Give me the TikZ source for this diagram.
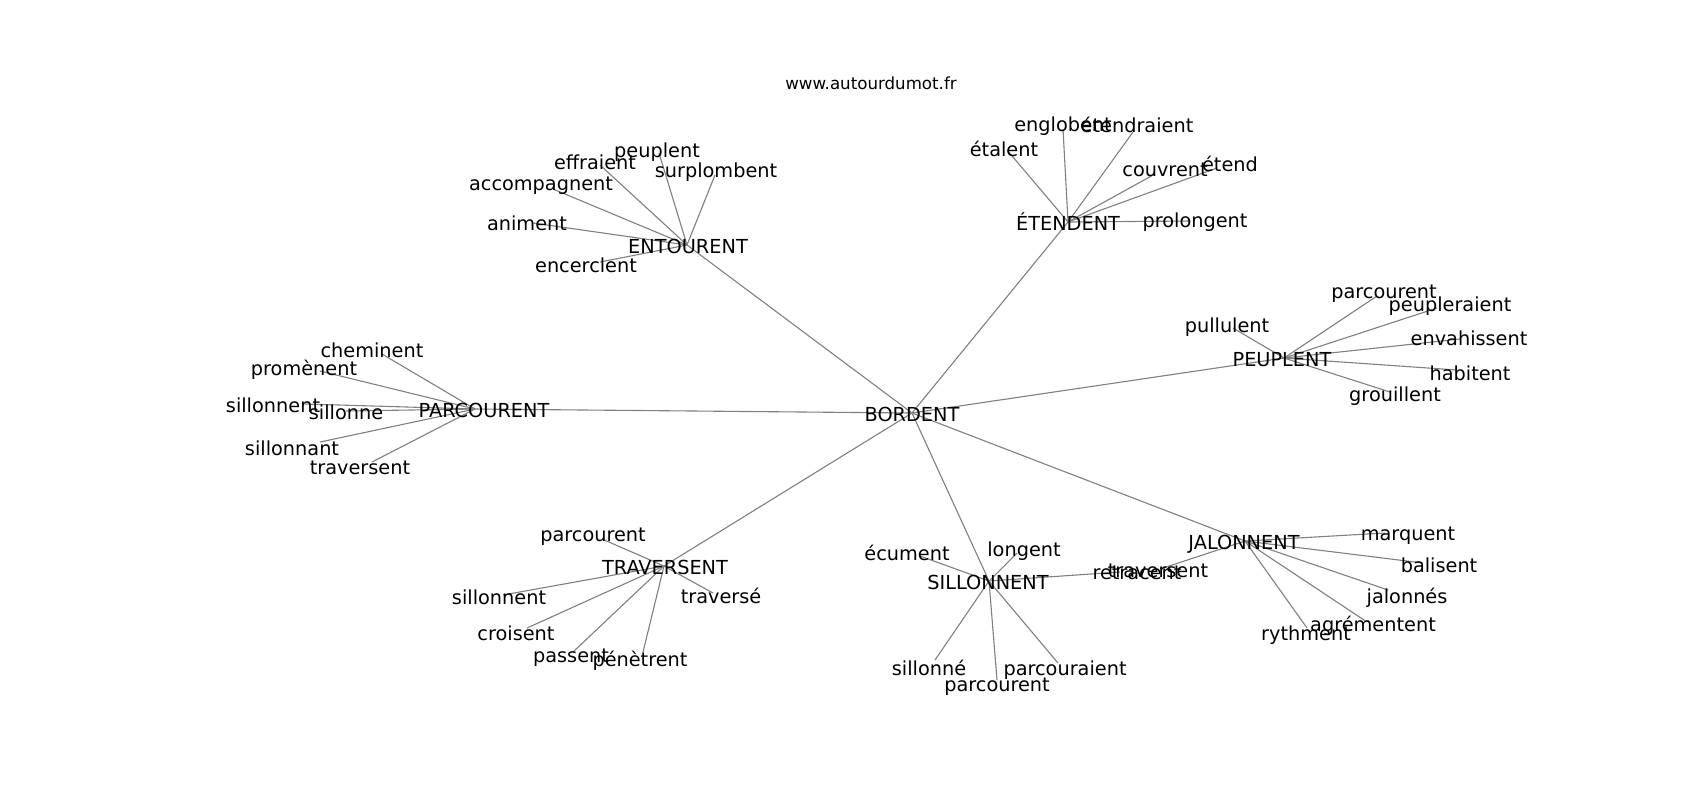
\documentclass[tikz,border=0pt]{standalone}
\usepackage{fontspec}
\setmainfont{DejaVu Sans}
\tikzset{
  lbl/.style={font=\fontsize{9.65}{11}\selectfont, anchor=base, yshift=-4pt, inner sep=0pt, text=black},
  ttl/.style={font=\fontsize{8.33}{10}\selectfont, anchor=base, yshift=-3pt, inner sep=0pt, text=black},
  edge/.style={draw=black!50, line width=0.55pt}
}
\begin{document}
\begin{tikzpicture}[x=0.5pt,y=-0.5pt]
\useasboundingbox[fill=white] (0,0) rectangle (1700,800);
% hubs
\coordinate (B) at (912,413);
\coordinate (E) at (687,245);
\coordinate (T) at (1068,222);
\coordinate (P) at (1284,358);
\coordinate (C) at (475,409);
\coordinate (V) at (664,566);
\coordinate (S) at (989,581);
\coordinate (J) at (1245,541);
% leaf line ends
\coordinate (e1) at (600,165);
\coordinate (e2) at (553,189);
\coordinate (e3) at (659,153);
\coordinate (e4) at (715,175);
\coordinate (e5) at (533,223);
\coordinate (e6) at (600,262);
\coordinate (t1) at (1007,150);
\coordinate (t2) at (1063,129);
\coordinate (t3) at (1133,132);
\coordinate (t4) at (1155,174);
\coordinate (t5) at (1217,168);
\coordinate (t6) at (1190,221);
\coordinate (p1) at (1233,328);
\coordinate (p2) at (1377,296);
\coordinate (p3) at (1437,308);
\coordinate (p4) at (1460,339);
\coordinate (p5) at (1457,370);
\coordinate (p6) at (1390,392);
\coordinate (c1) at (382,354);
\coordinate (c2) at (320,371);
\coordinate (c3) at (305,404);
\coordinate (c4) at (346,411);
\coordinate (c5) at (320,442);
\coordinate (c6) at (372,462);
\coordinate (v1) at (602,539);
\coordinate (v2) at (503,595);
\coordinate (v3) at (713,593);
\coordinate (v4) at (527,628);
\coordinate (v5) at (573,652);
\coordinate (v6) at (643,652);
\coordinate (s1) at (920,556);
\coordinate (s2) at (1017,553);
\coordinate (s3) at (1120,572);
\coordinate (s4) at (935,660);
\coordinate (s5) at (997,680);
\coordinate (s6) at (1058,663);
\coordinate (j0) at (1160,569);
\coordinate (j1) at (1385,533);
\coordinate (j2) at (1423,563);
\coordinate (j3) at (1388,590);
\coordinate (j4) at (1367,622);
\coordinate (j5) at (1307,628);
% edges
\foreach \h in {E,T,P,C,V,S,J} \draw[edge] (B) -- (\h);
\foreach \l in {e1,e2,e3,e4,e5,e6} \draw[edge] (E) -- (\l);
\foreach \l in {t1,t2,t3,t4,t5,t6} \draw[edge] (T) -- (\l);
\foreach \l in {p1,p2,p3,p4,p5,p6} \draw[edge] (P) -- (\l);
\foreach \l in {c1,c2,c3,c4,c5,c6} \draw[edge] (C) -- (\l);
\foreach \l in {v1,v2,v3,v4,v5,v6} \draw[edge] (V) -- (\l);
\foreach \l in {s1,s2,s3,s4,s5,s6} \draw[edge] (S) -- (\l);
\foreach \l in {j0,j1,j2,j3,j4,j5} \draw[edge] (J) -- (\l);
% title
\node[ttl] (title) at (871,83) {www.autourdumot.fr};
% hub labels
\node[lbl] (Bl) at (912,413) {BORDENT};
\node[lbl] (El) at (688,245) {ENTOURENT};
\node[lbl] (Tl) at (1068,222) {ÉTENDENT};
\node[lbl] (Pl) at (1282,358) {PEUPLENT};
\node[lbl] (Cl) at (484,409) {PARCOURENT};
\node[lbl] (Vl) at (665,566) {TRAVERSENT};
\node[lbl] (Sl) at (988,581) {SILLONNENT};
\node[lbl] (Jl) at (1244,541) {JALONNENT};
% leaf labels
\node[lbl] (e1l) at (595,161) {effraient};
\node[lbl] (e2l) at (541,182) {accompagnent};
\node[lbl] (e3l) at (657,149) {peuplent};
\node[lbl] (e4l) at (716,169) {surplombent};
\node[lbl] (e5l) at (527,222) {animent};
\node[lbl] (e6l) at (586,264) {encerclent};
\node[lbl] (t1l) at (1004,148) {étalent};
\node[lbl] (t2l) at (1063,123) {englobent};
\node[lbl] (t3l) at (1137,124) {étendraient};
\node[lbl] (t4l) at (1165,168) {couvrent};
\node[lbl] (t5l) at (1230,163) {étend};
\node[lbl] (t6l) at (1195,219) {prolongent};
\node[lbl] (p1l) at (1227,324) {pullulent};
\node[lbl] (p2l) at (1384,290) {parcourent};
\node[lbl] (p3l) at (1450,303) {peupleraient};
\node[lbl] (p4l) at (1469,337) {envahissent};
\node[lbl] (p5l) at (1470,372) {habitent};
\node[lbl] (p6l) at (1395,393) {grouillent};
\node[lbl] (c1l) at (372,349) {cheminent};
\node[lbl] (c2l) at (304,367) {promènent};
\node[lbl] (c3l) at (273,404) {sillonnent};
\node[lbl] (c4l) at (346,411) {sillonne};
\node[lbl] (c5l) at (292,447) {sillonnant};
\node[lbl] (c6l) at (360,466) {traversent};
\node[lbl] (v1l) at (593,533) {parcourent};
\node[lbl] (v2l) at (499,596) {sillonnent};
\node[lbl] (v3l) at (721,595) {traversé};
\node[lbl] (v4l) at (516,632) {croisent};
\node[lbl] (v5l) at (571,654) {passent};
\node[lbl] (v6l) at (640,658) {pénètrent};
\node[lbl] (s1l) at (907,552) {écument};
\node[lbl] (s2l) at (1024,548) {longent};
\node[lbl] (s3l) at (1137,571) {retracent};
\node[lbl] (s4l) at (929,667) {sillonné};
\node[lbl] (s5l) at (997,683) {parcourent};
\node[lbl] (s6l) at (1065,667) {parcouraient};
\node[lbl] (j0l) at (1158,569) {traversent};
\node[lbl] (j1l) at (1408,532) {marquent};
\node[lbl] (j2l) at (1439,564) {balisent};
\node[lbl] (j3l) at (1407,595) {jalonnés};
\node[lbl] (j4l) at (1373,623) {agrémentent};
\node[lbl] (j5l) at (1306,632) {rythment};
\end{tikzpicture}
\end{document}
